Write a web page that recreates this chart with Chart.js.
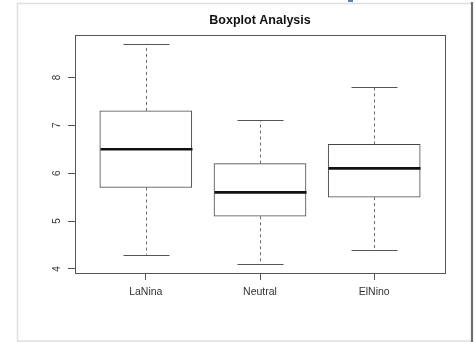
<!DOCTYPE html>
<html>
<head>
<meta charset="utf-8">
<script src="https://cdn.jsdelivr.net/npm/chart.js@4/dist/chart.umd.min.js"></script>
<style>
  html, body { margin: 0; padding: 0; background: #fff; }
  #wrap { position: relative; width: 475px; height: 342px; }
</style>
</head>
<body>
<div id="wrap"><canvas id="c"></canvas></div>
<script>
// ENSO phase groups and their five-number summaries
const categories = ['LaNina', 'Neutral', 'ElNino'];
const whiskerLow  = [4.3, 4.1, 4.4];
const quartile1   = [5.7, 5.1, 5.5];
const medians     = [6.5, 5.6, 6.1];
const quartile3   = [7.3, 6.2, 6.6];
const whiskerHigh = [8.7, 7.1, 7.8];
const yTickValues = [4, 5, 6, 7, 8];
const chartTitle  = 'Boxplot Analysis';

// R-style 4% range expansion on both axes
const yLo = Math.min(...whiskerLow), yHi = Math.max(...whiskerHigh);
const yPad = (yHi - yLo) * 0.04;
const xPad = (categories.length) * 0.04;

const FONT = '"Liberation Sans", Arial, Helvetica, sans-serif';
const BOX_W = 92;

// page frame behind the chart
const pageFrame = {
  id: 'pageFrame',
  beforeDraw(chart) {
    const ctx = chart.ctx;
    ctx.save();
    ctx.fillStyle = '#ffffff';
    ctx.fillRect(0, 0, chart.width, chart.height);
    ctx.strokeStyle = '#dedede';
    ctx.lineWidth = 1.5;
    ctx.beginPath();
    ctx.moveTo(17.5, 342); ctx.lineTo(17.5, 3.5); ctx.lineTo(471, 3.5);
    ctx.moveTo(17.5, 341); ctx.lineTo(471, 341);
    ctx.stroke();
    ctx.strokeStyle = '#6f6f6f';
    ctx.lineWidth = 2.2;
    ctx.beginPath();
    ctx.moveTo(472, 2); ctx.lineTo(472, 342);
    ctx.stroke();
    ctx.fillStyle = '#5b7fb8';
    ctx.fillRect(348, 0, 5, 2);
    ctx.restore();
  }
};

// whiskers, caps, medians, plot box, title and rotated y labels
const boxExtras = {
  id: 'boxExtras',
  afterDatasetsDraw(chart) {
    const ctx = chart.ctx;
    const xs = chart.scales.x, ys = chart.scales.y;
    const a = chart.chartArea;
    ctx.save();
    categories.forEach((c, i) => {
      const x = Math.round(xs.getPixelForValue(i + 1)) + 0.5;
      const yl = ys.getPixelForValue(whiskerLow[i]);
      const y1 = ys.getPixelForValue(quartile1[i]);
      const ym = ys.getPixelForValue(medians[i]);
      const y3 = ys.getPixelForValue(quartile3[i]);
      const yh = ys.getPixelForValue(whiskerHigh[i]);
      // dashed whiskers
      ctx.strokeStyle = '#6a6a6a';
      ctx.lineWidth = 1;
      ctx.setLineDash([3, 3]);
      ctx.beginPath();
      ctx.moveTo(x, y3); ctx.lineTo(x, yh);
      ctx.moveTo(x, y1); ctx.lineTo(x, yl);
      ctx.stroke();
      ctx.setLineDash([]);
      // whisker caps
      ctx.strokeStyle = '#555';
      ctx.beginPath();
      ctx.moveTo(x - BOX_W / 4, Math.round(yh) + 0.5); ctx.lineTo(x + BOX_W / 4, Math.round(yh) + 0.5);
      ctx.moveTo(x - BOX_W / 4, Math.round(yl) + 0.5); ctx.lineTo(x + BOX_W / 4, Math.round(yl) + 0.5);
      ctx.stroke();
      // median
      ctx.strokeStyle = '#111';
      ctx.lineWidth = 2.6;
      ctx.beginPath();
      ctx.moveTo(x - BOX_W / 2, ym); ctx.lineTo(x + BOX_W / 2, ym);
      ctx.stroke();
    });
    // plot box
    ctx.strokeStyle = '#555';
    ctx.lineWidth = 1;
    ctx.strokeRect(Math.round(a.left) + 0.5, Math.round(a.top) + 0.5,
                   Math.round(a.right - a.left), Math.round(a.bottom - a.top));
    // title centred over the plot region
    ctx.fillStyle = '#111';
    ctx.font = 'bold 12.5px ' + FONT;
    ctx.textAlign = 'center';
    ctx.textBaseline = 'middle';
    ctx.fillText(chartTitle, (a.left + a.right) / 2, 21);
    // y tick labels, parallel to the axis
    ctx.fillStyle = '#333';
    ctx.font = '10px ' + FONT;
    yTickValues.forEach(v => {
      const y = ys.getPixelForValue(v);
      ctx.save();
      ctx.translate(57.5, y);
      ctx.rotate(-Math.PI / 2);
      ctx.fillText(String(v), 0, 0);
      ctx.restore();
    });
    ctx.restore();
  }
};

new Chart(document.getElementById('c'), {
  type: 'bar',
  data: {
    datasets: [{
      data: categories.map((c, i) => ({ x: i + 1, y: [quartile1[i], quartile3[i]] })),
      backgroundColor: '#ffffff',
      borderColor: '#444',
      borderWidth: 1,
      borderSkipped: false,
      barThickness: BOX_W
    }]
  },
  options: {
    responsive: true,
    maintainAspectRatio: false,
    animation: false,
    devicePixelRatio: 1,
    layout: { padding: { left: 0, right: 30, top: 35, bottom: 0 } },
    plugins: {
      legend: { display: false },
      tooltip: { enabled: false },
      title: { display: false }
    },
    scales: {
      x: {
        type: 'linear',
        offset: false,
        min: 1 - 0.5 - xPad,
        max: categories.length + 0.5 + xPad,
        afterBuildTicks: s => { s.ticks = categories.map((c, i) => ({ value: i + 1 })); },
        afterFit: s => { s.height = 69; },
        border: { display: false },
        grid: { drawOnChartArea: false, offset: false, tickLength: 7, color: '#555', tickColor: '#555' },
        ticks: {
          autoSkip: false, maxRotation: 0, padding: 6, color: '#333',
          font: { family: FONT, size: 10.5 },
          callback: v => categories[Math.round(v) - 1] || ''
        }
      },
      y: {
        type: 'linear',
        min: yLo - yPad,
        max: yHi + yPad,
        afterBuildTicks: s => { s.ticks = yTickValues.map(v => ({ value: v })); },
        afterFit: s => { s.width = 75; },
        border: { display: false },
        grid: { drawOnChartArea: false, tickLength: 7, color: '#555', tickColor: '#555' },
        ticks: { display: false }
      }
    }
  },
  plugins: [pageFrame, boxExtras]
});
</script>
</body>
</html>
